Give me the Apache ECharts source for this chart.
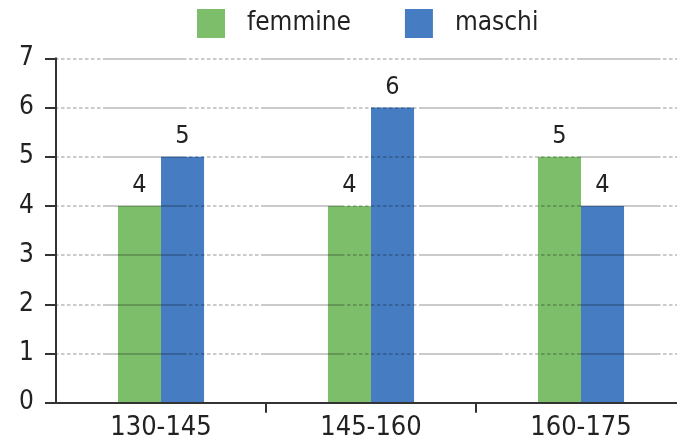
<!DOCTYPE html>
<html>
<head>
<meta charset="utf-8">
<script src="https://cdn.jsdelivr.net/npm/echarts@6/dist/echarts.min.js"></script>
<style>
  html, body { margin: 0; padding: 0; background: #fff; }
  #chart { width: 677px; height: 442px; }
</style>
</head>
<body>
<div id="chart"></div>
<script>
// Height ranges (cm) and number of girls / boys in each
const categories = ['130-145', '145-160', '160-175'];
const femmine = [4, 4, 5];
const maschi = [5, 6, 4];
const seriesNames = ['femmine', 'maschi'];
const yTicks = [0, 7, 1]; // min, max, step

const FONT = '"DejaVu Sans Condensed", "Liberation Sans Narrow", sans-serif';
const TEXT = '#222';

// grid line: dotted run followed by a solid run, repeating
const dots = [];
for (let i = 0; i < 13; i++) dots.push(3.5, 2.5);
const gridDash = dots.concat([80, 0.01]);

const chart = echarts.init(document.getElementById('chart'), null, { renderer: 'canvas' });

chart.setOption({
  animation: false,
  textStyle: { fontFamily: FONT },
  color: ['#7dbe6b', '#457cc2'],
  legend: {
    top: 4,
    left: 192,
    itemWidth: 28,
    itemHeight: 29,
    itemGap: 54,
    icon: 'rect',
    textStyle: { fontFamily: FONT, fontSize: 26, color: TEXT, padding: [0, 0, 0, 17] },
    data: seriesNames
  },
  // the last category runs a little past the right edge
  grid: {
    left: 56, width: 630, top: 58.3, bottom: 39.3,
    containLabel: false,
    outerBoundsMode: 'none'
  },
  xAxis: {
    type: 'category',
    data: categories,
    z: 4,
    axisLine: { lineStyle: { color: '#333', width: 2 } },
    // ticks only between the groups, none under the y axis
    axisTick: {
      show: true,
      interval: (index) => index !== 0,
      length: 10,
      lineStyle: { color: '#333', width: 2 }
    },
    axisLabel: { fontFamily: FONT, fontSize: 27, color: TEXT, margin: 12 }
  },
  yAxis: {
    type: 'value',
    min: yTicks[0],
    max: yTicks[1],
    interval: yTicks[2],
    z: 3,
    axisLine: { show: true, lineStyle: { color: '#333', width: 2 } },
    axisTick: { show: true, length: 11, lineStyle: { color: '#333', width: 2 } },
    axisLabel: { fontFamily: FONT, fontSize: 26, color: TEXT, margin: 22 },
    splitLine: {
      show: true,
      lineStyle: {
        color: 'rgba(0,0,0,0.28)',
        width: 1.6,
        type: gridDash,
        dashOffset: 31
      }
    }
  },
  series: [
    {
      name: seriesNames[0],
      type: 'bar',
      data: femmine,
      barGap: '0%',
      barCategoryGap: '59%',
      label: { show: true, position: 'top', distance: 8, fontFamily: FONT, fontSize: 25, color: TEXT }
    },
    {
      name: seriesNames[1],
      type: 'bar',
      data: maschi,
      barGap: '0%',
      barCategoryGap: '59%',
      label: { show: true, position: 'top', distance: 8, fontFamily: FONT, fontSize: 25, color: TEXT }
    }
  ]
});
</script>
</body>
</html>
